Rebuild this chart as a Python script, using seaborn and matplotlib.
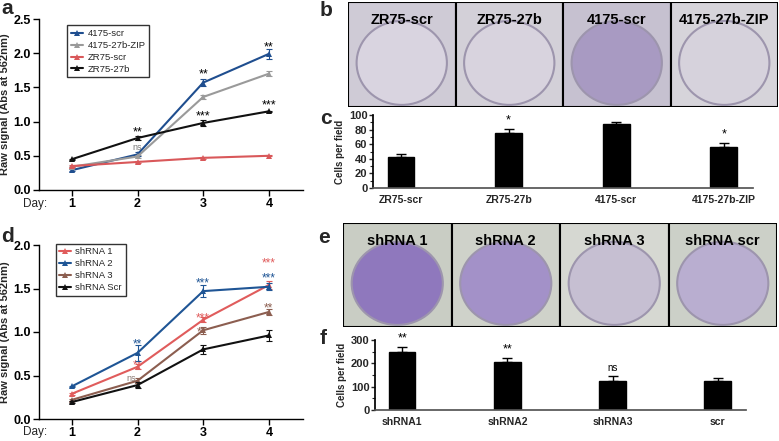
import matplotlib
matplotlib.use("Agg")
import matplotlib.pyplot as plt
import matplotlib.patches as mpatches
import numpy as np
import seaborn as sns

# datos
dias = [1, 2, 3, 4]

# panel a
series_a = ["4175-scr", "4175-27b-ZIP", "ZR75-scr", "ZR75-27b"]
a_4175_scr = [0.29, 0.52, 1.57, 1.99]
a_4175_zip = [0.34, 0.49, 1.36, 1.70]
a_zr75_scr = [0.35, 0.41, 0.47, 0.50]
a_zr75_27b = [0.45, 0.76, 0.98, 1.15]
err_4175_scr = [0.01, 0.03, 0.05, 0.07]
err_4175_zip = [0.01, 0.02, 0.03, 0.04]
err_zr75_scr = [0.01, 0.01, 0.01, 0.01]
err_zr75_27b = [0.01, 0.03, 0.05, 0.01]

# panel d
series_d = ["shRNA 1", "shRNA 2", "shRNA 3", "shRNA Scr"]
d_sh1 = [0.29, 0.60, 1.14, 1.54]
d_sh2 = [0.375, 0.76, 1.47, 1.52]
d_sh3 = [0.22, 0.44, 1.02, 1.23]
d_scr = [0.195, 0.39, 0.80, 0.96]
err_sh1 = [0.01, 0.03, 0.03, 0.05]
err_sh2 = [0.01, 0.09, 0.07, 0.04]
err_sh3 = [0.01, 0.03, 0.04, 0.03]
err_scr = [0.01, 0.03, 0.05, 0.06]

# panel c
cat_c = ["ZR75-scr", "ZR75-27b", "4175-scr", "4175-27b-ZIP"]
val_c = [42, 75, 88, 56]
err_c = [4.5, 5.5, 2.5, 5]
sig_c = ["", "*", "", "*"]

# panel f
cat_f = ["shRNA1", "shRNA2", "shRNA3", "scr"]
val_f = [250, 207, 124, 124]
err_f = [20, 14, 22, 13]
sig_f = ["**", "**", "ns", ""]

# fotos (solo etiquetas)
fotos_b = ["ZR75-scr", "ZR75-27b", "4175-scr", "4175-27b-ZIP"]
fotos_e = ["shRNA 1", "shRNA 2", "shRNA 3", "shRNA scr"]

sns.set_theme(style="ticks")
plt.rcParams['font.family'] = ['Liberation Sans', 'DejaVu Sans']

W, H = 779, 441
fig = plt.figure(figsize=(W / 100, H / 100), dpi=100)


def ejes(x0, y0, x1, y1):
    # ejes en pixeles medidos desde arriba a la izquierda
    return fig.add_axes([x0 / W, 1 - y1 / H, (x1 - x0) / W, (y1 - y0) / H])


def estilo_lineas(ax, ymax, paso):
    ax.set_xlim(0.5, 4.52)
    ax.set_ylim(0, ymax)
    ax.set_yticks(np.arange(0, ymax + 0.01, paso))
    ax.set_yticklabels([f"{v:.1f}" for v in np.arange(0, ymax + 0.01, paso)],
                       fontweight="bold", fontsize=9)
    ax.set_xticks(dias)
    ax.set_xticklabels([str(d) for d in dias], fontweight="bold", fontsize=9)
    ax.tick_params(length=4, width=1, pad=2, colors="black")
    ax.set_ylabel("Raw signal (Abs at 562nm)", fontweight="bold", fontsize=8)
    ax.yaxis.set_label_coords(-0.108, 0.5)
    ax.set_xlabel("")
    for s in ["top", "right"]:
        ax.spines[s].set_visible(False)
    for s in ["left", "bottom"]:
        ax.spines[s].set_linewidth(1)
        ax.spines[s].set_color("black")


def dibujar_lineas(ax, nombres, valores, errores, colores):
    for nombre, v, e, c in zip(nombres, valores, errores, colores):
        sns.lineplot(x=dias, y=v, color=c, marker="^", markersize=4,
                     markeredgewidth=0, linewidth=1.5, label=nombre, ax=ax)
        ax.errorbar(dias, v, yerr=e, fmt="none", ecolor=c, elinewidth=0.8,
                    capsize=2.5, capthick=0.8)


# ---- panel a
ax_a = ejes(39, 19, 303, 190)
col_a = ["#1f4e8f", "#9a9a9a", "#d9585a", "#111111"]
dibujar_lineas(ax_a, series_a,
               [a_4175_scr, a_4175_zip, a_zr75_scr, a_zr75_27b],
               [err_4175_scr, err_4175_zip, err_zr75_scr, err_zr75_27b], col_a)
estilo_lineas(ax_a, 2.5, 0.5)
leg = ax_a.legend(loc="upper left", bbox_to_anchor=(0.09, 0.99), fontsize=6.8,
                  frameon=True, fancybox=False, edgecolor="black",
                  handlelength=1.2, handletextpad=0.5, borderpad=0.4,
                  labelspacing=0.3)
leg.get_frame().set_linewidth(1)
for (x, y, t, c, fs) in [(2, 0.84, "**", "black", 9), (2, 0.62, "ns", "#777777", 6.5),
                         (3, 1.69, "**", "black", 9), (3, 1.08, "***", "black", 9),
                         (4, 2.08, "**", "black", 9), (4, 1.23, "***", "black", 9)]:
    ax_a.text(x, y, t, color=c, fontsize=fs, ha="center", va="center")

# ---- panel d
ax_d = ejes(39, 245, 303, 419)
col_d = ["#e05c5c", "#1f5595", "#8c5e50", "#111111"]
dibujar_lineas(ax_d, series_d, [d_sh1, d_sh2, d_sh3, d_scr],
               [err_sh1, err_sh2, err_sh3, err_scr], col_d)
estilo_lineas(ax_d, 2.0, 0.5)
leg = ax_d.legend(loc="upper left", bbox_to_anchor=(0.045, 1.035), fontsize=6.8,
                  frameon=True, fancybox=False, edgecolor="black",
                  handlelength=1.2, handletextpad=0.5, borderpad=0.4,
                  labelspacing=0.3)
leg.get_frame().set_linewidth(1)
for (x, y, t, c, fs) in [(2, 0.86, "**", col_d[1], 8.5), (2, 0.61, "**", col_d[0], 8.5),
                         (1.9, 0.47, "ns", "#8a7a74", 6.5),
                         (3, 1.56, "***", col_d[1], 8.5), (3, 1.16, "***", col_d[0], 8.5),
                         (2.97, 1.0, "**", col_d[2], 8.5),
                         (4, 1.79, "***", col_d[0], 8.5), (4, 1.62, "***", col_d[1], 8.5),
                         (4, 1.27, "**", col_d[2], 8.5)]:
    ax_d.text(x, y, t, color=c, fontsize=fs, ha="center", va="center", zorder=1)

# etiqueta Day:
fig.text(23 / W, 1 - 204 / H, "Day:", fontsize=8.5, va="center")
fig.text(23 / W, 1 - 432 / H, "Day:", fontsize=8.5, va="center")


# ---- barras c y f
def dibujar_barras(ax, cats, vals, errs, sigs, ymax, paso, menor):
    sns.barplot(x=cats, y=vals, color="black", width=0.25, ax=ax,
                edgecolor="black")
    ax.errorbar(range(len(cats)), vals, yerr=[[0] * len(errs), errs], fmt="none",
                ecolor="black", elinewidth=1, capsize=3.5, capthick=1)
    for i, (v, e, s) in enumerate(zip(vals, errs, sigs)):
        if s:
            ax.text(i, v + e + ymax * 0.04, s, ha="center", va="bottom",
                    fontsize=9 if s != "ns" else 7, color="black")
    ax.set_xlim(-0.26, 3.27)
    ax.set_ylim(0, ymax)
    ax.set_yticks(np.arange(0, ymax + 1, paso))
    ax.set_yticks(np.arange(0, ymax + 1, menor), minor=True)
    ax.set_yticklabels([str(int(v)) for v in np.arange(0, ymax + 1, paso)],
                       fontweight="bold", fontsize=8)
    ax.set_xticks(range(len(cats)))
    ax.set_xticklabels(cats, fontweight="bold", fontsize=7.5)
    ax.tick_params(axis="x", length=0, pad=5)
    ax.tick_params(axis="y", which="major", length=3, width=1, pad=1)
    ax.tick_params(axis="y", which="minor", length=2, width=0.8, left=True)
    ax.set_ylabel("Cells per field", fontweight="bold", fontsize=7, labelpad=3)
    for s in ["top", "right"]:
        ax.spines[s].set_visible(False)
    ax.spines["left"].set_color("black")
    ax.spines["bottom"].set_color("#555555")


ax_c = ejes(373, 115, 753, 188)
dibujar_barras(ax_c, cat_c, val_c, err_c, sig_c, 100, 20, 10)
ax_f = ejes(375, 340, 746, 410)
dibujar_barras(ax_f, cat_f, val_f, err_f, sig_f, 300, 100, 50)


# ---- fotos (representacion simple de las placas)
def dibujar_fotos(ax, etiquetas, fondos, placas):
    ax.set_xlim(0, 4)
    ax.set_ylim(0, 1)
    ax.set_axis_off()
    for i, (t, fo, pl) in enumerate(zip(etiquetas, fondos, placas)):
        ax.add_patch(mpatches.Rectangle((i, 0), 1, 1, facecolor=fo,
                                        edgecolor="black", linewidth=1.5))
        ax.add_patch(mpatches.Ellipse((i + 0.5, 0.42), 0.84, 0.80, facecolor=pl,
                                      edgecolor="#9d95ad", linewidth=1.5))
        ax.text(i + 0.5, 0.83, t, ha="center", va="center", fontsize=10.5,
                fontweight="bold", color="black")


ax_b = ejes(348, 2, 778, 107)
dibujar_fotos(ax_b, fotos_b, ["#cfcbd6", "#d3d0d8", "#c6c1d0", "#d6d4da"],
              ["#d9d4e0", "#d8d3de", "#a89ac2", "#d6d2dc"])
ax_e = ejes(343, 223, 777, 327)
dibujar_fotos(ax_e, fotos_e, ["#c9cdc4", "#cfd2ca", "#d6d8d2", "#ccd0c8"],
              ["#8f78bd", "#a391c8", "#c6bfd2", "#b9aed0"])

# letras de los paneles
for (x, y, l) in [(1, 9, "a"), (320, 10, "b"), (320, 118, "c"),
                  (1, 236, "d"), (318, 237, "e"), (320, 338, "f")]:
    fig.text(x / W, 1 - y / H, l, fontsize=15, fontweight="bold", va="center")

fig.savefig("out.png", dpi=100)
